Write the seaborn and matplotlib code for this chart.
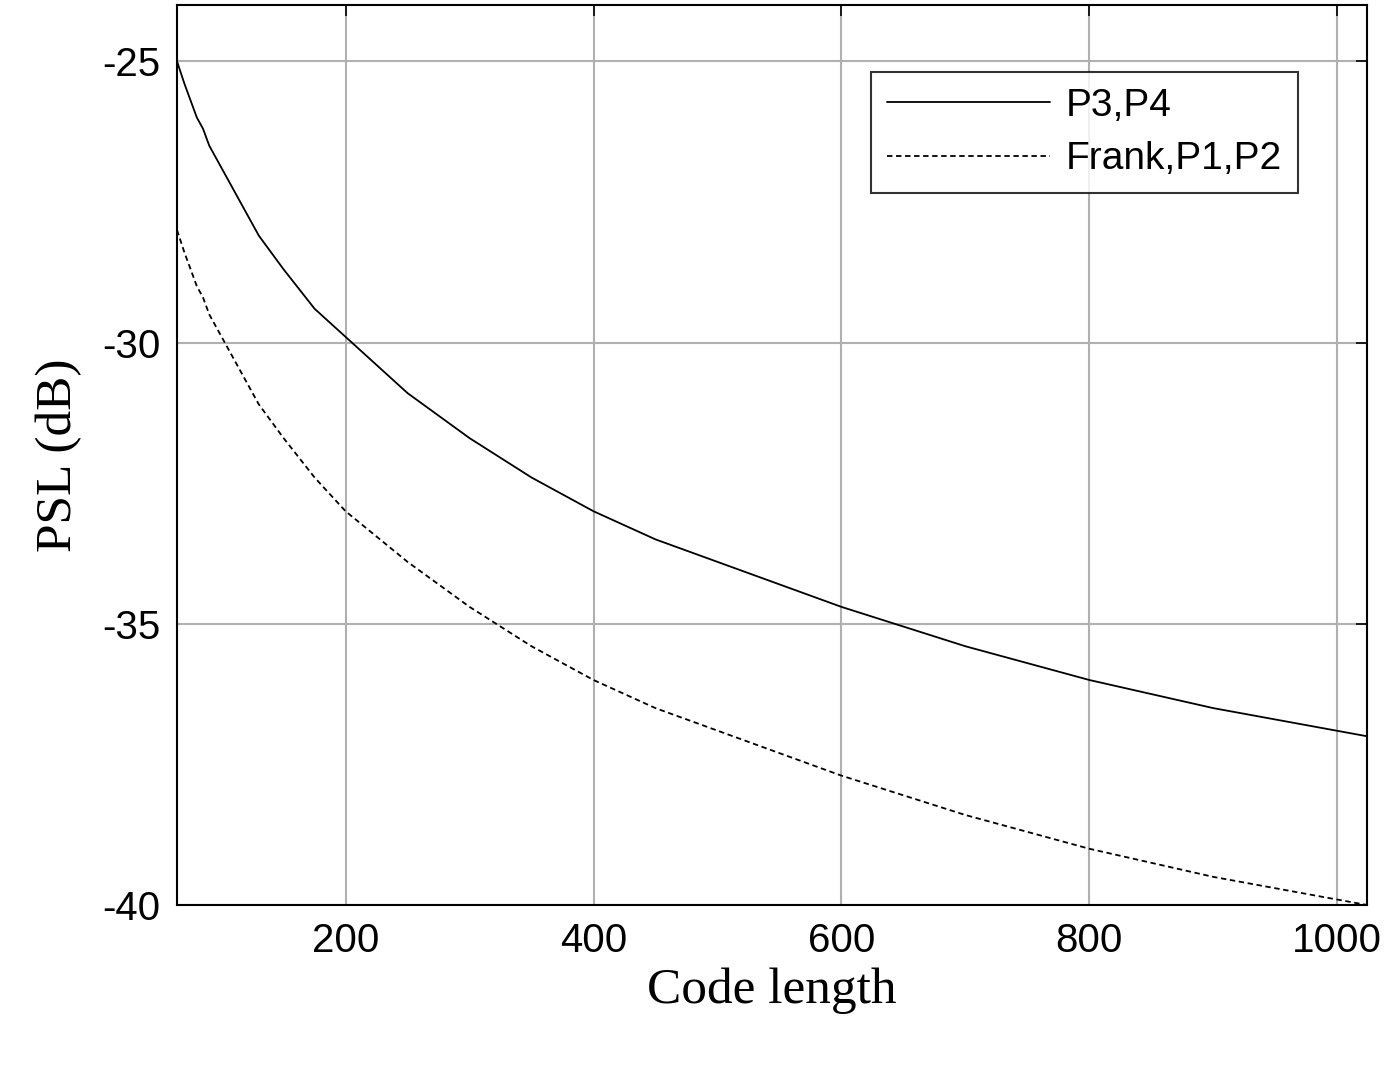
import matplotlib
matplotlib.use("Agg")
import matplotlib.pyplot as plt
import seaborn as sns
import pandas as pd

# values
code_length = [64, 70, 75, 80, 85, 90, 100, 110, 120, 130, 150, 175, 200, 250, 300,
               350, 400, 450, 500, 600, 700, 800, 900, 1024]
psl_p3p4 = [-25.0, -25.4, -25.7, -26.0, -26.2, -26.5, -26.9, -27.3, -27.7, -28.1,
            -28.7, -29.4, -29.9, -30.9, -31.7, -32.4, -33.0, -33.5, -33.9, -34.7,
            -35.4, -36.0, -36.5, -37.0]
psl_frank = [-28.0, -28.4, -28.7, -29.0, -29.2, -29.5, -29.9, -30.3, -30.7, -31.1,
             -31.7, -32.4, -33.0, -33.9, -34.7, -35.4, -36.0, -36.5, -36.9, -37.7,
             -38.4, -39.0, -39.5, -40.0]

df = pd.DataFrame({"N": code_length * 2,
                   "PSL": psl_p3p4 + psl_frank,
                   "code": ["P3,P4"] * len(code_length) + ["Frank,P1,P2"] * len(code_length)})

sns.set_theme(style="white")
plt.rcParams["axes.unicode_minus"] = False
fig = plt.figure(figsize=(14, 10.76), dpi=100)
ax = fig.add_axes([177 / 1400, 1 - 905 / 1076, 1190 / 1400, 900 / 1076])

sns.lineplot(data=df, x="N", y="PSL", hue="code", style="code",
             palette=["black", "black"], dashes=[(None, None), (3, 2)],
             linewidth=1.3, ax=ax)

ax.set_xlim(64, 1024)
ax.set_ylim(-40, -24)
ax.set_xticks([200, 400, 600, 800, 1000])
ax.set_yticks([-40, -35, -30, -25])
ax.grid(True, color="#b0b0b0", linewidth=1.5)
ax.tick_params(axis="both", direction="in", length=8, width=1.2, labelsize=29,
               top=True, right=True, colors="black", pad=12)
for lab in ax.get_xticklabels() + ax.get_yticklabels():
    lab.set_fontfamily("Liberation Sans")
for s in ax.spines.values():
    s.set_color("black")
    s.set_linewidth(1.5)

ax.set_xlabel("Code length", fontsize=37, fontfamily="Liberation Serif",
              labelpad=6, color="black")
ax.set_ylabel("PSL (dB)", fontsize=37, fontfamily="Liberation Serif",
              labelpad=14, color="black")

leg = ax.legend(loc="upper right", bbox_to_anchor=(0.958, 0.947),
                frameon=True, fancybox=False, edgecolor="black", handlelength=4.2,
                borderpad=0.4, labelspacing=0.45, handletextpad=0.4,
                prop={"family": "Liberation Sans", "size": 28})
leg.get_frame().set_linewidth(1.5)
for t in leg.get_texts():
    t.set_color("black")

fig.savefig("out.png", dpi=100)
